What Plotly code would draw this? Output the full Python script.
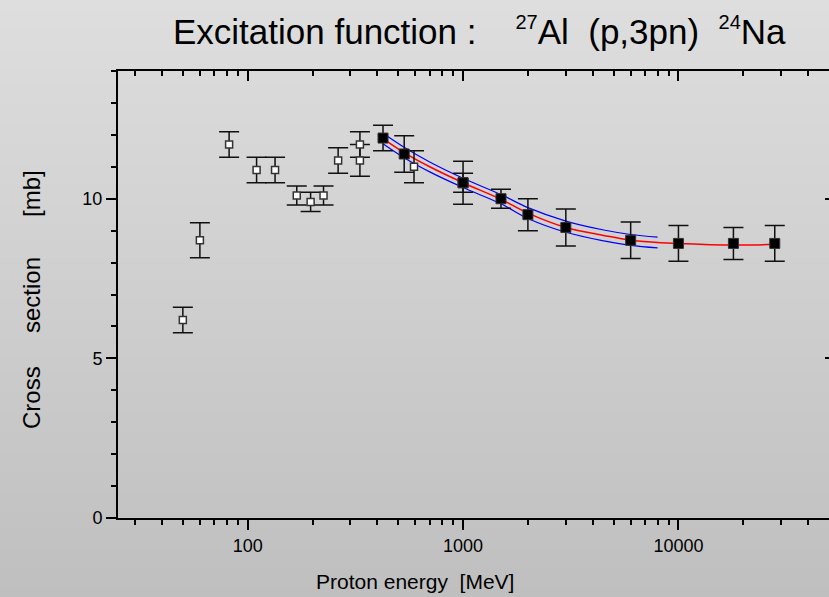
import numpy as np
import plotly.graph_objects as go

# ---------------- data ----------------
# other measurements (open squares)
open_e = [50, 60, 82, 110, 134, 169, 196, 225, 263, 332, 332, 592]
open_s = [6.2, 8.7, 11.7, 10.9, 10.9, 10.1, 9.9, 10.1, 11.2, 11.7, 11.2, 11.0]
open_err = [0.4, 0.55, 0.4, 0.4, 0.4, 0.3, 0.3, 0.3, 0.4, 0.4, 0.5, 0.5]

# present measurements (filled squares)
filled_e = [425, 533, 1000, 1000, 1500, 2000, 3000, 6000, 10000, 18000, 28000]
filled_s = [11.9, 11.4, 10.5, 10.5, 10.0, 9.5, 9.1, 8.7, 8.6, 8.6, 8.6]
filled_err = [0.4, 0.57, 0.67, 0.3, 0.3, 0.5, 0.58, 0.57, 0.56, 0.5, 0.56]

# fitted curve (red)
fit_e = [425, 530, 700, 1000, 1500, 2000, 3000, 4500, 6000, 8000, 10000, 14000, 20000, 28000]
fit_s = [11.88, 11.45, 11.0, 10.5, 9.98, 9.55, 9.1, 8.85, 8.7, 8.63, 8.6, 8.56, 8.55, 8.57]

# confidence band (blue)
band_e = [425, 530, 700, 1000, 1500, 2000, 3000, 4500, 6000, 8000]
band_hi = [12.05, 11.62, 11.15, 10.64, 10.13, 9.72, 9.3, 9.02, 8.88, 8.8]
band_lo = [11.72, 11.29, 10.84, 10.35, 9.84, 9.38, 8.95, 8.68, 8.54, 8.46]

x_major = [100, 1000, 10000]
x_labels = ["100", "1000", "10000"]
x_minor = [30, 40, 50, 60, 70, 80, 90,
           200, 300, 400, 500, 600, 700, 800, 900,
           2000, 3000, 4000, 5000, 6000, 7000, 8000, 9000,
           20000, 30000, 40000]
y_major = [0, 5, 10]
y_labels = ["0", "5", "10"]

NB = "\u00a0"
SUP = '<sup><span style="font-size:20px">{}</span></sup>'
title_text = ("Excitation function :" + NB * 4 + SUP.format("27") + "Al"
              + NB * 2 + "(p,3pn)" + NB * 2 + SUP.format("24") + "Na")
x_title = "Proton energy" + NB * 2 + "[MeV]"
y_title = "Cross" + NB * 5 + "section" + NB * 6 + "[mb]"

# ---------------- figure ----------------
W, H = 829, 597
ML, MR, MT, MB = 118, 0, 71, 79
PW, PH = W - ML - MR, H - MT - MB
FONT = "Liberation Sans, Arial, sans-serif"

fig = go.Figure()

fig.add_trace(go.Scatter(x=band_e, y=band_hi, mode="lines",
                         line=dict(color="#0000ff", width=1.2, shape="spline"),
                         hoverinfo="skip", showlegend=False))
fig.add_trace(go.Scatter(x=band_e, y=band_lo, mode="lines",
                         line=dict(color="#0000ff", width=1.2, shape="spline"),
                         hoverinfo="skip", showlegend=False))
fig.add_trace(go.Scatter(x=fit_e, y=fit_s, mode="lines",
                         line=dict(color="#ff0000", width=1.5, shape="spline"),
                         hoverinfo="skip", showlegend=False))

fig.add_trace(go.Scatter(
    x=open_e, y=open_s, mode="markers",
    marker=dict(symbol="square", size=7, color="white",
                line=dict(color="#333333", width=1.5)),
    error_y=dict(type="data", array=open_err, visible=True,
                 color="#111111", thickness=1.5, width=10),
    showlegend=False))

fig.add_trace(go.Scatter(
    x=filled_e, y=filled_s, mode="markers",
    marker=dict(symbol="square", size=10, color="black",
                line=dict(color="#333333", width=1)),
    error_y=dict(type="data", array=filled_err, visible=True,
                 color="#111111", thickness=1.5, width=10),
    showlegend=False))

# dummy trace to create the mirrored (top/right) axes
fig.add_trace(go.Scatter(x=[], y=[], xaxis="x2", yaxis="y2",
                         hoverinfo="skip", showlegend=False))

# background gradient (light at top, darker at bottom)
n_strips = 120
top_c, bot_c = 222, 191
for i in range(n_strips):
    y0px = H * i / n_strips
    y1px = H * (i + 1) / n_strips + 0.8
    c = int(round(top_c + (bot_c - top_c) * (i + 0.5) / n_strips))
    fig.add_shape(type="rect", xref="paper", yref="paper",
                  x0=-ML / PW - 0.01, x1=1.01,
                  y0=(H - MB - y1px) / PH, y1=(H - MB - y0px) / PH,
                  line=dict(width=0), fillcolor=f"rgb({c},{c},{c})", layer="below")

log_range = [np.log10(25), np.log10(50000)]

fig.update_layout(
    width=W, height=H,
    margin=dict(l=ML, r=MR, t=MT, b=MB),
    paper_bgcolor="rgb(206,206,206)", plot_bgcolor="rgba(0,0,0,0)",
    font=dict(family=FONT, color="black"),
    showlegend=False,
    xaxis=dict(type="log", range=log_range, showline=True, linecolor="black", linewidth=2,
               ticks="outside", ticklen=10, tickwidth=1.5, tickcolor="black",
               tickvals=x_major, ticktext=x_labels, tickfont=dict(size=18, family=FONT),
               minor=dict(tickvals=x_minor, ticks="outside", ticklen=5, tickwidth=1.5,
                          tickcolor="black", showgrid=False),
               showgrid=False, zeroline=False),
    xaxis2=dict(type="log", range=log_range, overlaying="x", side="top", anchor="y",
                showline=True, linecolor="black", linewidth=2,
                ticks="inside", ticklen=10, tickwidth=1.5, tickcolor="black",
                tickvals=x_major, showticklabels=False,
                minor=dict(tickvals=x_minor, ticks="inside", ticklen=5, tickwidth=1.5,
                           tickcolor="black", showgrid=False),
                showgrid=False, zeroline=False),
    yaxis=dict(range=[0, 14], showline=True, linecolor="black", linewidth=2,
               ticks="outside", ticklen=10, tickwidth=1.5, tickcolor="black",
               tickvals=y_major, ticktext=y_labels, tickfont=dict(size=18, family=FONT),
               minor=dict(dtick=1, ticks="outside", ticklen=5, tickwidth=1.5,
                          tickcolor="black", showgrid=False),
               showgrid=False, zeroline=False),
    yaxis2=dict(range=[0, 14], overlaying="y", side="right", anchor="x",
                showline=False, ticks="inside", ticklen=4, tickwidth=1.5, tickcolor="black",
                tickvals=[5, 10], showticklabels=False, showgrid=False, zeroline=False),
    annotations=[
        dict(text=title_text, xref="paper", yref="paper",
             x=(171 - ML) / PW, y=(H - MB - 31) / PH, xanchor="left", yanchor="middle",
             showarrow=False, font=dict(size=35, family=FONT, color="black")),
        dict(text=x_title, xref="paper", yref="paper",
             x=(415 - ML) / PW, y=(H - MB - 581) / PH, xanchor="center", yanchor="middle",
             showarrow=False, font=dict(size=21, family=FONT, color="black")),
        dict(text=y_title, xref="paper", yref="paper", textangle=-90,
             x=(31 - ML) / PW, y=(H - MB - 300) / PH, xanchor="center", yanchor="middle",
             showarrow=False, font=dict(size=24, family=FONT, color="black")),
    ],
)

fig.write_html("out.html",
               config={"displayModeBar": False},
               post_script="document.body.style.margin='0px';"
                           "document.body.style.overflow='hidden';")
